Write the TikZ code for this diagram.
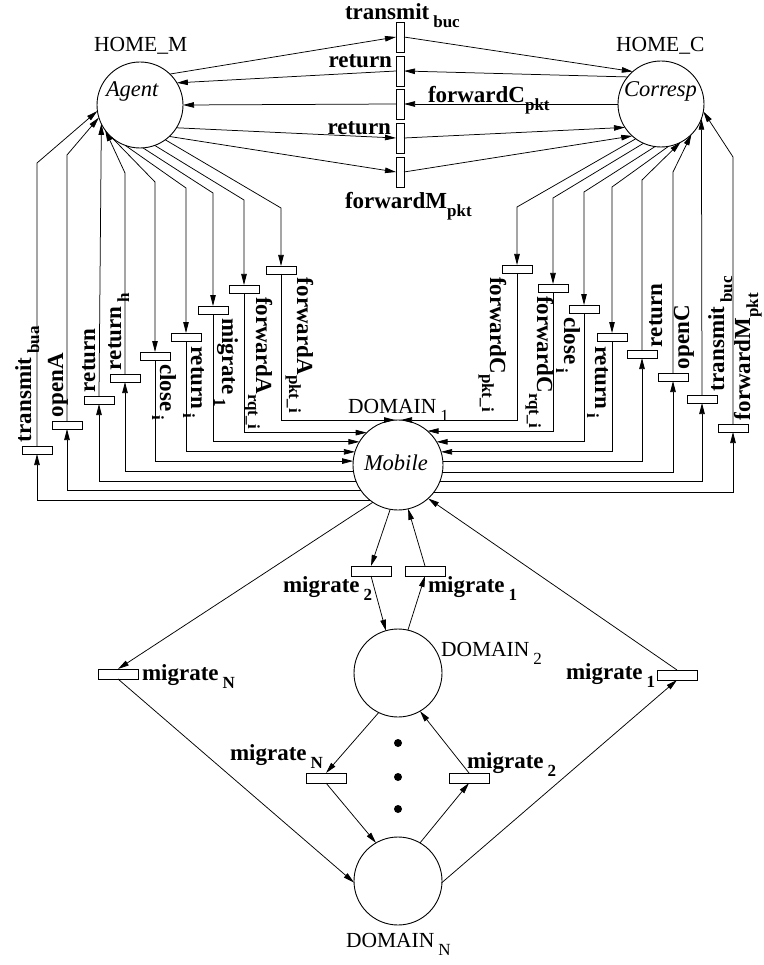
\documentclass[tikz,border=0pt]{standalone}
\usepackage{fontspec}
\setmainfont{Liberation Serif}
\usetikzlibrary{arrows.meta,calc}
\newcommand{\gsub}[2]{#1\hspace{4pt}\raisebox{-8pt}{\fontsize{17}{17}\selectfont #2}}
\newcommand{\nsub}[2]{#1\raisebox{-8pt}{\fontsize{17}{17}\selectfont #2}}
\begin{document}
\begin{tikzpicture}[x=1pt,y=-1pt,
  every node/.style={inner sep=0pt, outer sep=0pt},
  place/.style={circle, draw, line width=0.9pt, minimum size=86pt},
  trh/.style={rectangle, draw, line width=0.9pt, minimum width=30pt, minimum height=8pt},
  trv/.style={rectangle, draw, line width=0.9pt, minimum width=8pt, minimum height=30pt},
  trm/.style={rectangle, draw, line width=0.9pt, minimum width=40pt, minimum height=10pt},
  arc/.style={line width=0.75pt, -{Triangle[length=11pt,width=5.5pt]}},
  lbl/.style={font=\fontsize{23}{24}\selectfont\bfseries},
  plbl/.style={font=\fontsize{21.5}{24}\selectfont},
  ilbl/.style={font=\fontsize{22.5}{24}\selectfont\itshape},
  dot/.style={circle, fill, minimum size=8pt},
]
\useasboundingbox (0,0) rectangle (763,965);

% places
\node[place] (A) at (140,105) {};
\node[place] (C) at (661,104) {};
\node[place, minimum size=90pt] (M) at (398,465) {};
\node[place, minimum size=88pt] (D2) at (398,673) {};
\node[place, minimum size=88pt] (DN) at (398,881) {};

\node[ilbl, anchor=base west] (tA) at (106,97) {Agent};
\node[ilbl, anchor=base west] (tC) at (624,97) {Corresp};
\node[ilbl, anchor=base west] (tM) at (364,470) {Mobile};

\node[plbl, anchor=base west] (hm) at (94,52) {HOME\_M};
\node[plbl, anchor=base west] (hc) at (616,52) {HOME\_C};
\node[plbl, anchor=base west] (d1l) at (348,413) {\gsub{DOMAIN}{1}};
\node[plbl, anchor=base west] (d2l) at (441,656) {\gsub{DOMAIN}{2}};
\node[plbl, anchor=base west] (dnl) at (346,947) {\gsub{DOMAIN}{N}};

% top transitions
\node[trv] (tb) at (400,37) {};
\node[trv] (r1) at (400,71) {};
\node[trv] (fc) at (400,104) {};
\node[trv] (r2) at (400,138) {};
\node[trv] (fm) at (400,172) {};

\node[lbl, anchor=base west] (ltb) at (345,20) {\gsub{transmit}{buc}};
\node[lbl, anchor=base east] (lr1) at (392,68) {return};
\node[lbl, anchor=base west] (lfc) at (428,103) {\nsub{forwardC}{pkt}};
\node[lbl, anchor=base east] (lr2) at (391,135) {return};
\node[lbl, anchor=base west] (lfm) at (345,209) {\nsub{forwardM}{pkt}};

\draw[arc] (A.46) -- (tb.west);
\draw[arc] (tb.east) -- (C.131);
\draw[arc] (C.141) -- (r1.east);
\draw[arc] (r1.west) -- (A.31);
\draw[arc] (C.180) -- (fc.east);
\draw[arc] (fc.west) -- (A.0);
\draw[arc] (A.328) -- (r2.west);
\draw[arc] (r2.east) -- (C.213);
\draw[arc] (A.313) -- (fm.west);
\draw[arc] (fm.east) -- (C.228);

% left transitions
\node[trh] (L1) at (37,450) {};
\node[trh] (L2) at (67,425) {};
\node[trh] (L3) at (99,400) {};
\node[trh] (L4) at (125,378) {};
\node[trh] (L5) at (155,356) {};
\node[trh] (L6) at (186,337) {};
\node[trh] (L7) at (213,310) {};
\node[trh] (L8) at (244,289) {};
\node[trh] (L9) at (281,270) {};

\coordinate (b1) at (37,163);
\coordinate (b2) at (67,155);
\coordinate (b4) at (125,173);
\coordinate (b5) at (155,182);
\coordinate (b6) at (186,188);
\coordinate (b7) at (213,193);
\coordinate (b8) at (244,200);
\coordinate (b9) at (281,208);
\coordinate (mtL) at (395,420);
\coordinate (mtR) at (401,420);

\draw[arc] (M.231) -| (L1.south);
\draw[arc] (L1.north) -- (b1) -- (A.188);
\draw[arc] (M.214) -| (L2.south);
\draw[arc] (L2.north) -- (b2) -- (A.197);
\draw[arc] (M.201) -| (L3.south);
\draw[arc] (L3.north) -- (A.206);
\draw[arc] (M.188) -| (L4.south);
\draw[arc] (L4.north) -- (b4) -- (A.216);
\draw[arc] (A.228) -- (b5) -- (L5.north);
\draw[arc] (L5.south) |- (M.175.5);
\draw[arc] (A.250) -- (b6) -- (L6.north);
\draw[arc] (L6.south) |- (M.163);
\draw[arc] (A.274) -- (b7) -- (L7.north);
\draw[arc] (L7.south) |- (M.149);
\draw[arc] (A.290) -- (b8) -- (L8.north);
\draw[arc] (L8.south) |- (M.134);
\draw[arc] (A.306) -- (b9) -- (L9.north);
\draw[arc] (L9.south) |- (mtL);

\node[lbl, rotate=90, anchor=base west] (lL1) at (31,442) {\gsub{transmit}{bua}};
\node[lbl, rotate=90, anchor=base west] (lL2) at (63,417) {openA};
\node[lbl, rotate=90, anchor=base west] (lL3) at (95,392) {return};
\node[lbl, rotate=90, anchor=base west] (lL4) at (121,370) {\gsub{return}{h}};
\node[lbl, rotate=-90, anchor=base west] (lL5) at (160,364) {\gsub{close}{i}};
\node[lbl, rotate=-90, anchor=base west] (lL6) at (191,346) {\gsub{return}{i}};
\node[lbl, rotate=-90, anchor=base west] (lL7) at (222,318) {\gsub{migrate}{1}};
\node[lbl, rotate=-90, anchor=base west] (lL8) at (256,297) {\nsub{forwardA}{rqt\_i}};
\node[lbl, rotate=-90, anchor=base west] (lL9) at (297,278) {\nsub{forwardA}{pkt\_i}};

% right transitions
\node[trh] (R1) at (517,269) {};
\node[trh] (R2) at (553,288) {};
\node[trh] (R3) at (584,309) {};
\node[trh] (R4) at (612,337) {};
\node[trh] (R5) at (642,354) {};
\node[trh] (R6) at (673,377) {};
\node[trh] (R7) at (702,399) {};
\node[trh] (R8) at (733,428) {};

\coordinate (c1) at (517,207);
\coordinate (c2) at (553,198);
\coordinate (c3) at (584,192);
\coordinate (c4) at (612,187);
\coordinate (c5) at (642,180);
\coordinate (c6) at (673,172);
\coordinate (c8) at (733,157);

\draw[arc] (C.234) -- (c1) -- (R1.north);
\draw[arc] (R1.south) |- (mtR);
\draw[arc] (C.246) -- (c2) -- (R2.north);
\draw[arc] (R2.south) |- (M.49);
\draw[arc] (C.262) -- (c3) -- (R3.north);
\draw[arc] (R3.south) |- (M.31);
\draw[arc] (C.280) -- (c4) -- (R4.north);
\draw[arc] (R4.south) |- (M.17);
\draw[arc] (M.4) -| (R5.south);
\draw[arc] (R5.north) -- (c5) -- (C.297);
\draw[arc] (M.351) -| (R6.south);
\draw[arc] (R6.north) -- (c6) -- (C.315);
\draw[arc] (M.338) -| (R7.south);
\draw[arc] (R7.north) -- (C.340);
\draw[arc] (M.323) -| (R8.south);
\draw[arc] (R8.north) -- (c8) -- (C.350);

\node[lbl, rotate=-90, anchor=base west] (lR1) at (490,277) {\nsub{forwardC}{pkt\_i}};
\node[lbl, rotate=-90, anchor=base west] (lR2) at (537,296) {\nsub{forwardC}{rqt\_i}};
\node[lbl, rotate=-90, anchor=base west] (lR3) at (564,317) {\gsub{close}{i}};
\node[lbl, rotate=-90, anchor=base west] (lR4) at (595,346) {\gsub{return}{i}};
\node[lbl, rotate=90, anchor=base west] (lR5) at (662,347) {return};
\node[lbl, rotate=90, anchor=base west] (lR6) at (689,369) {openC};
\node[lbl, rotate=90, anchor=base west] (lR7) at (724,391) {\gsub{transmit}{buc}};
\node[lbl, rotate=90, anchor=base west] (lR8) at (750,420) {\nsub{forwardM}{pkt}};

% lower part
\node[trm] (m2) at (371,571) {};
\node[trm] (m1) at (425,571) {};
\node[trm] (mNl) at (118,674) {};
\node[trm] (m1r) at (677,675) {};
\node[trm] (mNb) at (326,778) {};
\node[trm] (m2b) at (469,778) {};
\node[dot] (dt1) at (398,743) {};
\node[dot] (dt2) at (398,777) {};
\node[dot] (dt3) at (398,809) {};

\node[lbl, anchor=base west] (lm2) at (283,592) {\gsub{migrate}{2}};
\node[lbl, anchor=base west] (lm1) at (428,592) {\gsub{migrate}{1}};
\node[lbl, anchor=base west] (lmNl) at (142,680) {\gsub{migrate}{N}};
\node[lbl, anchor=base west] (lm1r) at (566,679) {\gsub{migrate}{1}};
\node[lbl, anchor=base west] (lmNb) at (230,760) {\gsub{migrate}{N}};
\node[lbl, anchor=base west] (lm2b) at (467,768) {\gsub{migrate}{2}};

\draw[arc] (M.260) -- (m2.north);
\draw[arc] (m2.south) -- (D2.106);
\draw[arc] (D2.77) -- (m1.south);
\draw[arc] (m1.north) -- (M.283);
\draw[arc] (M.236) -- (mNl.north);
\draw[arc] (mNl.south) -- (DN.182);
\draw[arc] (DN.358) -- (m1r.south);
\draw[arc] (m1r.north) -- (M.312);
\draw[arc] (D2.244) -- (mNb.north);
\draw[arc] (mNb.south) -- (DN.120);
\draw[arc] (DN.60) -- (m2b.south);
\draw[arc] (m2b.north) -- (D2.300);
\end{tikzpicture}
\end{document}
